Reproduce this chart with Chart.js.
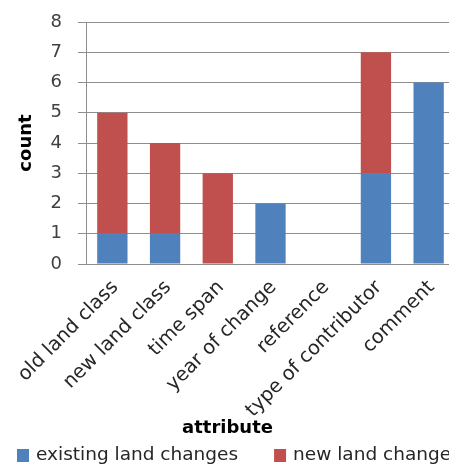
<!DOCTYPE html>
<html>
<head>
<meta charset="utf-8">
<script src="https://cdn.jsdelivr.net/npm/chart.js@4/dist/chart.umd.min.js"></script>
<style>
  html, body { margin: 0; padding: 0; overflow: hidden; background: #fff; }
  #wrap { position: relative; width: 455px; height: 465px; }
</style>
</head>
<body>
<div id="wrap"><canvas id="c"></canvas></div>
<script>
// Attributes filled in by contributors
const categories = ['old land class', 'new land class', 'time span', 'year of change', 'reference', 'type of contributor', 'comment'];
// Counts per attribute for each kind of submission
const existingLandChanges = [1, 1, 0, 2, 0, 3, 6];
const newLandChanges = [4, 3, 3, 0, 0, 4, 0];
const seriesNames = ['existing land changes', 'new land changes'];
// Value axis range
const yTicks = [0, 1, 2, 3, 4, 5, 6, 7, 8];

const FONT = '"DejaVu Sans", sans-serif';
const GRID = '#8e8e8e';

// Legend row along the bottom edge, drawn from the datasets
const bottomLegend = {
  id: 'bottomLegend',
  afterDraw(chart) {
    const ctx = chart.ctx;
    ctx.save();
    ctx.font = '18.5px ' + FONT;
    ctx.textBaseline = 'alphabetic';
    let x = 17;
    const base = 459.5;
    chart.data.datasets.forEach(ds => {
      ctx.fillStyle = ds.backgroundColor;
      ctx.fillRect(x, 449, 12, 13);
      ctx.fillStyle = '#262626';
      ctx.fillText(ds.label, x + 19, base);
      x += 19 + ctx.measureText(ds.label).width + 36;
    });
    ctx.restore();
  }
};

new Chart(document.getElementById('c'), {
  type: 'bar',
  data: {
    labels: categories,
    datasets: [
      { label: seriesNames[0], data: existingLandChanges, backgroundColor: '#4F81BD', borderWidth: 0 },
      { label: seriesNames[1], data: newLandChanges, backgroundColor: '#C0504D', borderWidth: 0 }
    ]
  },
  options: {
    responsive: true,
    maintainAspectRatio: false,
    animation: false,
    events: [],
    layout: { padding: { top: 22, right: 0, bottom: 22, left: 0 } },
    datasets: { bar: { barPercentage: 0.575, categoryPercentage: 1.0 } },
    plugins: {
      legend: { display: false },
      tooltip: { enabled: false },
      title: {
        display: true,
        position: 'bottom',
        text: 'attribute',
        color: '#000',
        font: { family: FONT, size: 18, weight: 'bold' },
        padding: { top: 0, bottom: 4 }
      }
    },
    scales: {
      x: {
        stacked: true,
        grid: { display: false, drawTicks: false },
        border: { display: true, color: GRID, width: 1 },
        ticks: {
          autoSkip: false,
          maxRotation: 45,
          minRotation: 45,
          padding: 12,
          labelOffset: 3,
          color: '#262626',
          font: { family: FONT, size: 19.5 }
        },
        afterFit(s) {
          s.height = 153.4;
          s.paddingRight = 0;
        }
      },
      y: {
        stacked: true,
        min: yTicks[0],
        max: yTicks[yTicks.length - 1],
        grid: { color: GRID, lineWidth: 1, drawTicks: true, tickLength: 8 },
        border: { display: true, color: GRID, width: 1 },
        ticks: {
          stepSize: 1,
          padding: 16,
          color: '#404040',
          font: { family: FONT, size: 18 }
        },
        title: {
          display: true,
          text: 'count',
          color: '#000',
          font: { family: FONT, size: 18, weight: 'bold' },
          padding: { top: 16, bottom: 0 }
        },
        afterFit(s) {
          s.width = 86;
          s.paddingTop = 0;
          s.paddingBottom = 0;
        }
      }
    }
  },
  plugins: [bottomLegend]
});
</script>
</body>
</html>
